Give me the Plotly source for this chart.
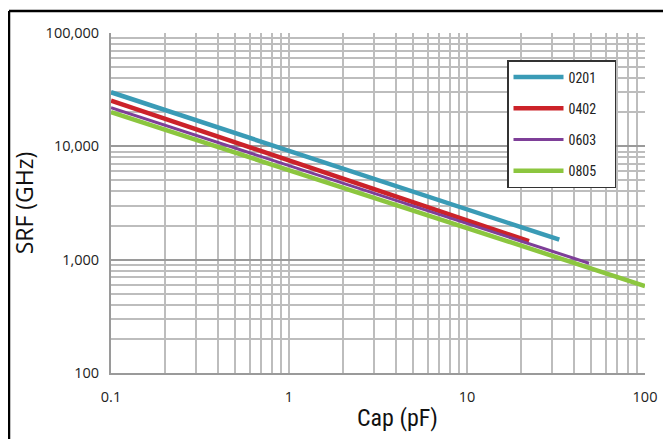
import plotly.graph_objects as go

# Data
cap_0201 = [0.1, 1, 10, 33]
srf_0201 = [30000, 9200, 2800, 1500]
cap_0402 = [0.1, 1, 10, 22.3]
srf_0402 = [25300, 7500, 2220, 1455]
cap_0603 = [0.1, 1, 10, 48.5]
srf_0603 = [21900, 6750, 2080, 930]
cap_0805 = [0.1, 1, 10, 100]
srf_0805 = [20000, 6150, 1900, 585]

series_names = ["0201", "0402", "0603", "0805"]
x_ticks = [0.1, 1, 10, 100]
x_ticktext = ["0.1", "1", "10", "100"]
y_ticks = [100, 1000, 10000, 100000]
y_ticktext = ["100", "1,000", "10,000", "100,000"]
x_title = "Cap (pF)"
y_title = "SRF (GHz)"

colors = ["#3a9bb6", "#cc2229", "#7e3f98", "#8cc63f"]
widths = [4.5, 4.5, 3, 4.5]

fig = go.Figure()
data = [(cap_0201, srf_0201), (cap_0402, srf_0402), (cap_0603, srf_0603), (cap_0805, srf_0805)]
for i, (name, (xs, ys)) in enumerate(zip(series_names, data)):
    fig.add_trace(go.Scatter(
        x=xs, y=ys, mode="lines", name=name + "\u00a0\u00a0\u00a0\u00a0",
        line=dict(color=colors[i], width=widths[i]),
        legendgroup=name,
    ))

grid_c = "#bdbdbd"
W, H = 663, 431
L, R, T, B = 103, 26, 25, 66
pw, ph = W - L - R, H - T - B
cond = "Liberation Sans Narrow, Roboto Condensed, Roboto, sans-serif"

fig.update_layout(
    width=W, height=H,
    margin=dict(l=L, r=R, t=T, b=B),
    paper_bgcolor="white", plot_bgcolor="white",
    showlegend=True,
    legend=dict(
        x=(499 - L) / pw, y=(365 - 52) / ph, xanchor="left", yanchor="top",
        bgcolor="white", bordercolor="#333333", borderwidth=1.5,
        font=dict(family=cond, size=14, color="#222"),
        tracegroupgap=10, itemwidth=50,
    ),
    xaxis=dict(
        type="log", range=[-1, 2],
        tickvals=x_ticks, ticktext=x_ticktext,
        showgrid=True, gridcolor=grid_c, gridwidth=2,
        minor=dict(showgrid=True, gridcolor=grid_c, gridwidth=2, dtick="D1", ticks=""),
        showline=True, linecolor="#9a9a9a", linewidth=2,
        ticks="", ticklen=0, ticklabelstandoff=10,
        tickfont=dict(family="Open Sans, sans-serif", size=14.5, color="#222"),
        zeroline=False,
    ),
    yaxis=dict(
        type="log", range=[2, 5],
        tickvals=y_ticks, ticktext=y_ticktext,
        showgrid=True, gridcolor="#9a9a9a", gridwidth=2,
        minor=dict(showgrid=True, gridcolor=grid_c, gridwidth=2, dtick="D1", ticks=""),
        showline=True, linecolor="#9a9a9a", linewidth=2,
        ticks="", ticklen=0, ticklabelstandoff=7,
        tickfont=dict(family="Open Sans, sans-serif", size=14.5, color="#222"),
        title=dict(text=y_title, standoff=10,
                   font=dict(family="Open Sans, sans-serif", size=23, color="#111")),
        zeroline=False,
    ),
)

# x-axis title placed as in the reference (slightly right of centre)
fig.add_annotation(text=x_title, xref="paper", yref="paper",
                   x=(389 - L) / pw, y=(365 - 410) / ph, xanchor="center", yanchor="middle",
                   showarrow=False, font=dict(family=cond, size=24, color="#111"))

# outer black frame: top and left edges (right/bottom run off the image in the reference)
top_y = (365 - 3) / ph
left_x = (1 - L) / pw
fig.add_shape(type="line", xref="paper", yref="paper",
              x0=left_x, x1=(W - L) / pw, y0=top_y, y1=top_y,
              line=dict(color="black", width=2.5), layer="above")
fig.add_shape(type="line", xref="paper", yref="paper",
              x0=left_x, x1=left_x, y0=top_y, y1=(365 - H) / ph,
              line=dict(color="black", width=2.5), layer="above")

fig.write_html("out.html")
